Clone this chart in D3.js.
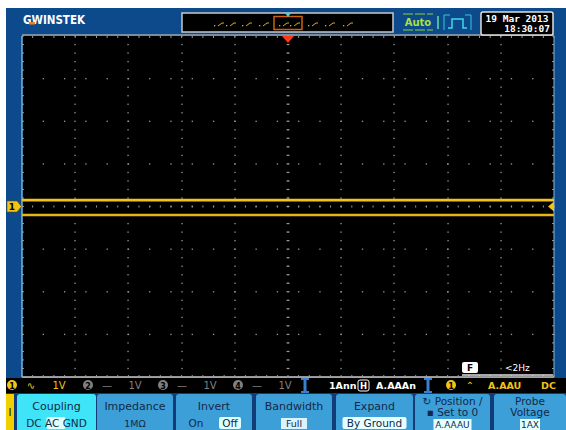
<!DOCTYPE html>
<html><head><meta charset="utf-8">
<script src="https://cdn.jsdelivr.net/npm/d3@7"></script>
<style>html,body{margin:0;padding:0;background:#fff;}svg{display:block;}</style>
</head><body>
<script>
// ---- data ----
const timeDivs   = [-5,-4,-3,-2,-1,0,1,2,3,4,5];
const upperTrace = [0.15,0.15,0.15,0.15,0.15,0.15,0.15,0.15,0.15,0.15,0.15];
const lowerTrace = [-0.20,-0.20,-0.20,-0.20,-0.20,-0.20,-0.20,-0.20,-0.20,-0.20,-0.20];
const xDivTicks  = [-5,-4,-3,-2,-1,0,1,2,3,4,5];
const yDivTicks  = [-4,-3,-2,-1,0,1,2,3,4];
const statusLeft = ["1V","1V","1V","1V"];
const chanNames  = ["1","2","3","4"];
const timebase   = ["1Ann","A.AAAn"];
const trigInfo   = ["A.AAU","DC"];
const menuTitles = ["Coupling","Impedance","Invert","Bandwidth","Expand","Position /","Probe"];
const menuValues = ["DC AC GND","1MΩ","On Off","Full","By Ground","A.AAAU","1AX"];
const dateText   = ["19 Mar 2013","18:30:07"];

const W=566,H=430;
const svg=d3.select("body").append("svg").attr("width",W).attr("height",H);
const F="DejaVu Sans";
svg.append("rect").attr("width",W).attr("height",H).attr("fill","#fff");
svg.append("rect").attr("x",6).attr("y",8).attr("width",W-6).attr("height",H-8).attr("fill","#0c4a8c");

const plotL=22,plotR=554,plotT=36,plotB=377;
const x=d3.scaleLinear().domain([-5,5]).range([plotL,plotR]);
const y=d3.scaleLinear().domain([-4,4]).range([plotB,plotT]);

svg.append("rect").attr("x",plotL).attr("y",plotT).attr("width",plotR-plotL).attr("height",plotB-plotT).attr("fill","#000");
svg.append("line").attr("x1",plotL).attr("x2",plotL).attr("y1",plotT).attr("y2",plotB).attr("stroke","#6ab8e8").attr("stroke-width",1.5);
svg.append("line").attr("x1",plotL).attr("x2",plotR).attr("y1",plotT-1).attr("y2",plotT-1).attr("stroke","#9aa4b0").attr("stroke-width",1.5);
svg.append("line").attr("x1",plotR).attr("x2",plotR).attr("y1",plotT).attr("y2",plotB).attr("stroke","#8ab8d8").attr("stroke-width",1);
svg.append("line").attr("x1",plotL).attr("x2",plotR).attr("y1",plotB).attr("y2",plotB).attr("stroke","#c8c8c8").attr("stroke-width",1.5);

const g=svg.append("g");
const dotC="#9a9a9a";
xDivTicks.slice(1,-1).forEach(d=>{
  for(let v=-4;v<=4.001;v+=0.2){
    g.append("rect").attr("x",Math.round(x(d))-0.6).attr("y",y(v)-0.6).attr("width",1.3).attr("height",1.3).attr("fill",dotC);
  }
});
yDivTicks.slice(1,-1).forEach(d=>{
  for(let v=-5;v<=5.001;v+=0.4){
    g.append("rect").attr("x",x(v)-0.6).attr("y",y(d)-0.6).attr("width",1.3).attr("height",1.3).attr("fill",dotC);
  }
});
for(let v=-5;v<=5.001;v+=0.2){
  g.append("line").attr("x1",x(v)).attr("x2",x(v)).attr("y1",y(0)-1).attr("y2",y(0)+1).attr("stroke",dotC);
}
for(let v=-4;v<=4.001;v+=0.2){
  g.append("line").attr("x1",x(0)-1.5).attr("x2",x(0)+1.5).attr("y1",y(v)).attr("y2",y(v)).attr("stroke",dotC);
}
for(let v=-5;v<=5.001;v+=0.2){
  g.append("line").attr("x1",x(v)).attr("x2",x(v)).attr("y1",plotT).attr("y2",plotT+2).attr("stroke",dotC);
  g.append("line").attr("x1",x(v)).attr("x2",x(v)).attr("y1",plotB-2).attr("y2",plotB).attr("stroke",dotC);
}
for(let v=-4;v<=4.001;v+=0.2){
  g.append("line").attr("x1",plotL).attr("x2",plotL+2).attr("y1",y(v)).attr("y2",y(v)).attr("stroke",dotC);
  g.append("line").attr("x1",plotR-2).attr("x2",plotR).attr("y1",y(v)).attr("y2",y(v)).attr("stroke",dotC);
}

// traces
const line=d3.line().x((d,i)=>x(timeDivs[i])).y(d=>y(d));
svg.append("path").datum(upperTrace).attr("d",line).attr("fill","none").attr("stroke","#f2c414").attr("stroke-width",2.8);
svg.append("path").datum(lowerTrace).attr("d",line).attr("fill","none").attr("stroke","#e6b612").attr("stroke-width",2.4);

// channel marker (left)
const my=y(0);
svg.append("path").attr("d",`M7,${my-5.5}H17L21.5,${my}L17,${my+5.5}H7Z`).attr("fill","#f2c414").attr("stroke","#6a5000").attr("stroke-width",0.6);
svg.append("text").attr("x",12).attr("y",my+3.5).attr("font-family",F).attr("font-size",9).attr("font-weight","bold").attr("text-anchor","middle").attr("fill","#000").text(chanNames[0]);
svg.append("path").attr("d",`M${plotR},${my-5}L${plotR-6},${my}L${plotR},${my+5}Z`).attr("fill","#f2c414");
svg.append("path").attr("d",`M${x(0)-6},${plotT}L${x(0)+6},${plotT}L${x(0)},${plotT+7}Z`).attr("fill","#ff3a10");

// header: logo
svg.append("text").attr("x",23).attr("y",24).attr("font-family",F).attr("font-size",12).attr("font-weight","bold").attr("fill","#fff").attr("textLength",62).attr("lengthAdjust","spacingAndGlyphs").text("GWINSTEK");
svg.append("rect").attr("x",29).attr("y",22).attr("width",6).attr("height",2.5).attr("fill","#f08020");

// memory bar
svg.append("rect").attr("x",182).attr("y",13).attr("width",211).attr("height",19).attr("fill","#000").attr("stroke","#c8c8c8").attr("stroke-width",1.5);
const glyphX=[218,230,246,263,283,294,312,329,347];
glyphX.forEach(gx=>{
  svg.append("rect").attr("x",gx-4).attr("y",25).attr("width",1.3).attr("height",1.3).attr("fill","#d8b010");
  svg.append("line").attr("x1",gx).attr("y1",26).attr("x2",gx+4).attr("y2",23).attr("stroke","#d8b010").attr("stroke-width",1);
  svg.append("line").attr("x1",gx+4).attr("y1",23).attr("x2",gx+6).attr("y2",23).attr("stroke","#d8b010").attr("stroke-width",1);
});
svg.append("rect").attr("x",274).attr("y",16.5).attr("width",28).attr("height",13).attr("fill","none").attr("stroke","#d0600c").attr("stroke-width",1.5);
svg.append("path").attr("d","M285,13L291,13L288,17Z").attr("fill","#30e0e8");

// Auto + trigger icon
svg.append("line").attr("x1",403).attr("x2",433).attr("y1",14).attr("y2",14).attr("stroke","#90d030").attr("stroke-dasharray","10,2");
svg.append("line").attr("x1",403).attr("x2",433).attr("y1",30).attr("y2",30).attr("stroke","#90d030").attr("stroke-dasharray","10,2");
svg.append("text").attr("x",418).attr("y",26).attr("font-family",F).attr("font-size",10).attr("font-weight","bold").attr("text-anchor","middle").attr("fill","#a8e040").text("Auto");
svg.append("line").attr("x1",438).attr("x2",438).attr("y1",16).attr("y2",29).attr("stroke","#60e0a0").attr("stroke-width",1.5);
svg.append("path").attr("d","M444,15V30M471,15V30M444,15H450M465,15H471").attr("fill","none").attr("stroke","#30c8d8").attr("stroke-width",1);
svg.append("path").attr("d","M448,28H452V19H463V28H467").attr("fill","none").attr("stroke","#40d8e8").attr("stroke-width",1.5);

// date box
svg.append("rect").attr("x",481).attr("y",12).attr("width",72).attr("height",23).attr("rx",2).attr("fill","#000").attr("stroke","#e0e0e0").attr("stroke-width",1.5);
svg.append("text").attr("x",517).attr("y",22).attr("font-family","DejaVu Sans Mono").attr("font-size",9.5).attr("font-weight","bold").attr("text-anchor","middle").attr("fill","#fff").text(dateText[0]);
svg.append("text").attr("x",550).attr("y",32).attr("font-family","DejaVu Sans Mono").attr("font-size",9.5).attr("font-weight","bold").attr("text-anchor","end").attr("fill","#fff").text(dateText[1]);

// freq counter
svg.append("line").attr("x1",462).attr("x2",553).attr("y1",375).attr("y2",375).attr("stroke","#e0e0e0").attr("stroke-width",1.5);
svg.append("rect").attr("x",462).attr("y",362).attr("width",16).attr("height",11).attr("rx",2).attr("fill","#fff");
svg.append("text").attr("x",470).attr("y",371).attr("font-family",F).attr("font-size",9).attr("font-weight","bold").attr("text-anchor","middle").attr("fill","#000").text("F");
svg.append("text").attr("x",505).attr("y",371).attr("font-family",F).attr("font-size",9).attr("fill","#fff").text("<2Hz");

// status bar
svg.append("rect").attr("x",6).attr("y",378).attr("width",W-6).attr("height",15).attr("fill","#000");
const sy=389;
function circ(cx,col,label){
  svg.append("circle").attr("cx",cx).attr("cy",385).attr("r",5).attr("fill",col);
  svg.append("text").attr("x",cx).attr("y",388.5).attr("font-family",F).attr("font-size",8).attr("font-weight","bold").attr("text-anchor","middle").attr("fill","#000").text(label);
}
const chX=[12,88,163,238];
chanNames.forEach((c,i)=>{
  const col=i===0?"#f2c414":"#808080";
  circ(chX[i],col,c);
  svg.append("text").attr("x",chX[i]+19).attr("y",sy).attr("font-family",F).attr("font-size",10).attr("text-anchor","middle").attr("fill",col).text(i===0?"∿":"—");
  svg.append("text").attr("x",chX[i]+47).attr("y",sy).attr("font-family",F).attr("font-size",10).attr("text-anchor","middle").attr("fill",col).text(statusLeft[i]);
});
[305,428].forEach(sx=>{
  svg.append("rect").attr("x",sx-1.5).attr("y",378).attr("width",3).attr("height",15).attr("fill","#3a80d0");
  svg.append("rect").attr("x",sx-4).attr("y",378).attr("width",8).attr("height",2).attr("fill","#3a80d0");
  svg.append("rect").attr("x",sx-4).attr("y",391).attr("width",8).attr("height",2).attr("fill","#3a80d0");
});
svg.append("text").attr("x",329).attr("y",sy).attr("font-family",F).attr("font-size",9.5).attr("font-weight","bold").attr("fill","#fff").text(timebase[0]);
svg.append("rect").attr("x",358).attr("y",380).attr("width",11).attr("height",11).attr("rx",2).attr("fill","none").attr("stroke","#fff");
svg.append("text").attr("x",363.5).attr("y",389).attr("font-family",F).attr("font-size",8.5).attr("font-weight","bold").attr("text-anchor","middle").attr("fill","#fff").text("H");
svg.append("text").attr("x",376).attr("y",sy).attr("font-family",F).attr("font-size",9.5).attr("font-weight","bold").attr("fill","#fff").text(timebase[1]);
circ(451,"#f2c414","1");
svg.append("text").attr("x",470).attr("y",sy).attr("font-family",F).attr("font-size",10).attr("text-anchor","middle").attr("fill","#f2c414").text("⌃");
svg.append("text").attr("x",488).attr("y",sy).attr("font-family",F).attr("font-size",9.5).attr("font-weight","bold").attr("fill","#f2c414").text(trigInfo[0]);
svg.append("text").attr("x",541).attr("y",sy).attr("font-family",F).attr("font-size",9.5).attr("font-weight","bold").attr("fill","#f2c414").text(trigInfo[1]);

// menu buttons
svg.append("rect").attr("x",6).attr("y",393).attr("width",W-6).attr("height",37).attr("fill","#123c78");
svg.append("rect").attr("x",6).attr("y",394).attr("width",8).attr("height",36).attr("fill","#f2d000");
svg.append("text").attr("x",10).attr("y",416).attr("font-family",F).attr("font-size",10).attr("text-anchor","middle").attr("fill","#000").text("I");
const btnX=[17,97,176,256,336,415,494];
const btnW=[79,76,76,76,77,75,72];
menuTitles.forEach((t,i)=>{
  const bx=btnX[i],bw=btnW[i],cx=bx+bw/2;
  svg.append("path").attr("d",`M${bx},430V397Q${bx},394 ${bx+3},394H${bx+bw-3}Q${bx+bw},394 ${bx+bw},397V430Z`).attr("fill",i===0?"#40e4f8":"#3c9fd8");
  const tc="#142848";
  if(i===5){
    svg.append("text").attr("x",cx).attr("y",405).attr("font-family",F).attr("font-size",10.5).attr("text-anchor","middle").attr("fill",tc).text("↻ "+t);
    svg.append("text").attr("x",cx).attr("y",416).attr("font-family",F).attr("font-size",10.5).attr("text-anchor","middle").attr("fill",tc).text("▪ Set to 0");
    svg.append("rect").attr("x",cx-19).attr("y",419).attr("width",38).attr("height",11).attr("fill","#e8ffff");
    svg.append("text").attr("x",cx).attr("y",428).attr("font-family",F).attr("font-size",9).attr("text-anchor","middle").attr("fill",tc).text(menuValues[i]);
  } else if(i===6){
    svg.append("text").attr("x",cx).attr("y",405).attr("font-family",F).attr("font-size",10.5).attr("text-anchor","middle").attr("fill",tc).text(t);
    svg.append("text").attr("x",cx).attr("y",416).attr("font-family",F).attr("font-size",10.5).attr("text-anchor","middle").attr("fill",tc).text("Voltage");
    svg.append("rect").attr("x",cx-10).attr("y",419).attr("width",20).attr("height",11).attr("fill","#e8ffff");
    svg.append("text").attr("x",cx).attr("y",428).attr("font-family",F).attr("font-size",9).attr("text-anchor","middle").attr("fill",tc).text(menuValues[i]);
  } else {
    svg.append("text").attr("x",cx).attr("y",410).attr("font-family",F).attr("font-size",11).attr("text-anchor","middle").attr("fill",tc).text(t);
    const v=menuValues[i];
    if(i===0){
      svg.append("rect").attr("x",cx-10).attr("y",417).attr("width",19).attr("height",12).attr("rx",2).attr("fill","#e0ffff");
      svg.append("text").attr("x",cx).attr("y",427).attr("font-family",F).attr("font-size",10.5).attr("text-anchor","middle").attr("fill",tc).text(v);
    } else if(i===2){
      svg.append("text").attr("x",cx-18).attr("y",427).attr("font-family",F).attr("font-size",10.5).attr("text-anchor","middle").attr("fill",tc).text("On");
      svg.append("rect").attr("x",cx+5).attr("y",417).attr("width",22).attr("height",12).attr("rx",2).attr("fill","#e0ffff");
      svg.append("text").attr("x",cx+16).attr("y",427).attr("font-family",F).attr("font-size",10.5).attr("text-anchor","middle").attr("fill",tc).text("Off");
    } else if(i===3){
      svg.append("rect").attr("x",cx-13).attr("y",418).attr("width",26).attr("height",11).attr("fill","#d8f4ff");
      svg.append("text").attr("x",cx).attr("y",427).attr("font-family",F).attr("font-size",9.5).attr("text-anchor","middle").attr("fill",tc).text(v);
    } else if(i===4){
      svg.append("rect").attr("x",cx-32).attr("y",417).attr("width",64).attr("height",12).attr("rx",2).attr("fill","#e8ffff");
      svg.append("text").attr("x",cx).attr("y",427).attr("font-family",F).attr("font-size",10.5).attr("text-anchor","middle").attr("fill",tc).text(v);
    } else {
      svg.append("text").attr("x",cx).attr("y",427).attr("font-family",F).attr("font-size",9.5).attr("text-anchor","middle").attr("fill",tc).text(v);
    }
  }
});
</script>
</body></html>
